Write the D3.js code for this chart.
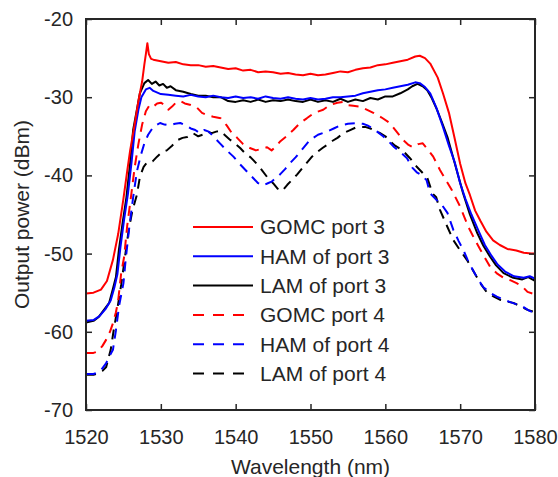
<!DOCTYPE html>
<html>
<head>
<meta charset="utf-8">
<script src="https://cdn.jsdelivr.net/npm/d3@7"></script>
<style>
  html, body { margin: 0; padding: 0; background: #fff; }
  svg { display: block; }
  text { font-family: Arial, "Liberation Sans", Helvetica, sans-serif; fill: #262626; }
</style>
</head>
<body>
<svg id="chart" width="558" height="477"></svg>
<script>
// ---------------- DATA ----------------
const seriesNames = ["GOMC port 3", "HAM of port 3", "LAM of port 3", "GOMC port 4", "HAM of port 4", "LAM of port 4"];
const seriesColors = ["#ff0000", "#0000ff", "#000000", "#ff0000", "#0000ff", "#000000"];
const seriesDashed = [false, false, false, true, true, true];

const xTicks = [1520, 1530, 1540, 1550, 1560, 1570, 1580];
const yTicks = [-70, -60, -50, -40, -30, -20];

// GOMC port 3
const gomc3X = [1520, 1521, 1522, 1522.8, 1523.6, 1524.3, 1525, 1525.5, 1525.9, 1526.5, 1527, 1527.5, 1527.8, 1528.0, 1528.2, 1528.4, 1528.7, 1529, 1529.5, 1530, 1531, 1532, 1533, 1534, 1535, 1536, 1537, 1538, 1539, 1540, 1541, 1542, 1543, 1544, 1545, 1546, 1547, 1548, 1549, 1550, 1551, 1552, 1553, 1554, 1555, 1556, 1557, 1558, 1559, 1560, 1561, 1562, 1563, 1564, 1564.6, 1565.3, 1566, 1567, 1567.7, 1568.5, 1569.2, 1570, 1570.7, 1571.3, 1572, 1572.7, 1573.5, 1574.4, 1575.3, 1576.3, 1577.5, 1578.5, 1579.5, 1580];
const gomc3Y = [-55.1, -55.0, -54.6, -53.5, -50.8, -47.5, -43.0, -39.5, -36.8, -33.5, -30.5, -28.0, -25.8, -24.5, -23.1, -24.5, -25.1, -25.2, -25.3, -25.4, -25.6, -25.5, -25.8, -25.9, -25.9, -26.1, -26.0, -26.2, -26.4, -26.3, -26.6, -26.5, -26.8, -26.7, -26.8, -27.0, -26.9, -27.1, -27.2, -27.0, -27.2, -27.1, -26.9, -26.7, -26.8, -26.5, -26.3, -26.2, -25.9, -25.8, -25.6, -25.4, -25.2, -24.8, -24.7, -25.0, -25.7, -27.5, -29.5, -32.0, -35.0, -38.5, -41.0, -42.5, -44.5, -45.8, -47.2, -48.3, -48.9, -49.4, -49.6, -49.9, -50.0, -50.0];

// HAM of port 3
const ham3X = [1520, 1521, 1521.8, 1522.6, 1523.3, 1523.8, 1524.2, 1524.6, 1525.1, 1525.6, 1526.1, 1526.5, 1527, 1527.4, 1528, 1528.5, 1529, 1530, 1531, 1532, 1533, 1534, 1535, 1536, 1537, 1538, 1539, 1540, 1541, 1542, 1543, 1544, 1545, 1546, 1547, 1548, 1549, 1550, 1551, 1552, 1553, 1554, 1555, 1556, 1557, 1558, 1559, 1560, 1561, 1562, 1563, 1564, 1564.6, 1565.3, 1566, 1566.8, 1567.7, 1568.5, 1569.3, 1570, 1570.7, 1571.5, 1572.5, 1573.3, 1574.2, 1575, 1576, 1577.2, 1578.5, 1579.3, 1580];
const ham3Y = [-58.6, -58.5, -58.0, -57.1, -56.0, -54.3, -52.6, -49.2, -45.6, -42.4, -38.2, -34.4, -31.6, -30.0, -29.0, -28.8, -29.2, -29.6, -29.7, -29.8, -29.9, -29.7, -29.9, -30.0, -29.8, -30.0, -30.1, -29.9, -30.1, -30.0, -30.2, -29.9, -30.1, -30.2, -30.0, -30.2, -30.3, -30.1, -30.3, -30.2, -30.0, -30.0, -29.9, -29.8, -29.5, -29.3, -29.1, -29.0, -28.8, -28.6, -28.4, -28.1, -28.2, -28.7, -29.5, -31.3, -33.8, -36.2, -38.4, -41.0, -43.0, -45.0, -47.2, -48.9, -50.3, -51.4, -52.3, -52.9, -53.1, -52.9, -53.2];

// LAM of port 3
const lam3X = [1520, 1521, 1521.7, 1522.4, 1523.1, 1523.6, 1524, 1524.4, 1524.9, 1525.4, 1525.9, 1526.3, 1526.8, 1527.2, 1527.8, 1528.3, 1528.8, 1529.3, 1529.8, 1530.3, 1530.8, 1531.3, 1532, 1533, 1534, 1535, 1536, 1537, 1538, 1539, 1540, 1541, 1542, 1543, 1544, 1545, 1546, 1547, 1548, 1549, 1550, 1551, 1552, 1553, 1554, 1555, 1556, 1557, 1558, 1559, 1560, 1561, 1562, 1563, 1563.6, 1564.3, 1565, 1565.6, 1566.2, 1566.9, 1567.6, 1568.3, 1569.2, 1570.4, 1571.3, 1572.3, 1573.1, 1574, 1574.8, 1575.8, 1577.1, 1578.3, 1579.1, 1580];
const lam3Y = [-58.8, -58.6, -58.1, -57.2, -56.3, -54.5, -53.0, -49.5, -46.0, -42.8, -38.4, -34.2, -31.6, -29.5, -28.2, -27.8, -28.3, -28.0, -28.5, -28.3, -28.8, -28.6, -29.1, -29.3, -29.6, -29.8, -29.8, -30.0, -30.0, -30.5, -30.6, -30.4, -30.6, -30.3, -30.6, -30.4, -30.5, -30.3, -30.5, -30.6, -30.3, -30.6, -30.4, -30.6, -30.2, -30.6, -30.3, -30.5, -30.1, -30.3, -29.9, -29.9, -29.5, -29.0, -28.6, -28.3, -28.6, -29.1, -30.1, -31.6, -33.3, -35.1, -38.2, -42.3, -45.0, -47.4, -49.0, -50.4, -51.5, -52.5, -53.1, -53.3, -53.0, -53.5];

// GOMC port 4
const gomc4X = [1520, 1521, 1521.6, 1522.2, 1522.7, 1523.2, 1523.6, 1524, 1524.3, 1524.7, 1525.1, 1525.5, 1526, 1526.5, 1527, 1527.5, 1528, 1528.5, 1529, 1529.5, 1530, 1530.5, 1531, 1531.5, 1532, 1532.6, 1533.2, 1534, 1534.8, 1535.5, 1536.2, 1537, 1538, 1538.8, 1539.5, 1540.2, 1541, 1541.9, 1542.7, 1543.5, 1544.2, 1544.8, 1545.4, 1545.9, 1546.8, 1547.7, 1548.6, 1549.5, 1550.5, 1551.7, 1552.6, 1553.6, 1554.3, 1554.9, 1555.7, 1556.6, 1557.5, 1558.4, 1559.5, 1560.6, 1561.5, 1562.4, 1563.1, 1563.7, 1564.4, 1565, 1565.7, 1566.4, 1567.3, 1568.1, 1568.9, 1570, 1571.1, 1572, 1572.7, 1574, 1575, 1575.8, 1576.7, 1577.6, 1578.4, 1579, 1580];
const gomc4Y = [-62.7, -62.7, -62.5, -61.8, -61.0, -60.0, -58.9, -57.5, -56.0, -52.5, -50.4, -46.5, -42.8, -39.0, -36.0, -33.5, -31.8, -31.0, -31.2, -30.8, -30.7, -31.0, -31.6, -31.2, -30.7, -30.5, -30.8, -31.0, -31.3, -32.0, -32.3, -32.5, -32.7, -33.6, -34.6, -35.2, -36.0, -36.5, -36.8, -36.6, -36.4, -36.8, -36.3, -35.7, -35.0, -34.2, -33.3, -32.7, -32.0, -31.6, -31.0, -30.7, -30.6, -31.0, -31.1, -31.2, -31.6, -32.0, -32.6, -33.3, -34.4, -35.5, -36.1, -36.4, -36.0, -35.9, -36.7, -37.6, -39.3, -40.6, -41.9, -44.0, -46.6, -48.3, -49.5, -51.7, -52.6, -53.1, -53.4, -53.8, -54.3, -54.9, -55.2];

// HAM of port 4
const ham4X = [1520, 1521, 1521.5, 1522, 1522.7, 1523.2, 1523.6, 1524, 1524.4, 1525, 1525.3, 1525.8, 1526.3, 1526.8, 1527.3, 1527.8, 1528.3, 1529, 1529.9, 1530.5, 1531.2, 1531.9, 1532.6, 1533.3, 1534, 1534.6, 1535.2, 1535.8, 1536.4, 1537.2, 1537.9, 1538.8, 1539.7, 1540.6, 1541.5, 1542.3, 1543, 1543.6, 1544.3, 1544.8, 1545.4, 1545.9, 1546.6, 1547.3, 1548, 1548.6, 1549.3, 1549.9, 1551, 1552.2, 1553.1, 1554, 1555, 1556.2, 1557, 1557.6, 1558.3, 1558.9, 1559.7, 1560.4, 1561.2, 1562, 1562.9, 1563.6, 1564.2, 1564.9, 1565.5, 1566, 1566.8, 1567.5, 1568.3, 1569.1, 1569.8, 1570.4, 1571, 1571.7, 1572.4, 1573.1, 1574, 1574.9, 1575.8, 1576.7, 1577.6, 1578.4, 1579.2, 1580];
const ham4Y = [-65.4, -65.4, -65.2, -64.9, -64.0, -63.0, -62.3, -59.8, -56.8, -53.8, -50.8, -46.5, -42.8, -39.5, -37.5, -35.9, -34.8, -33.8, -33.3, -33.5, -33.6, -33.4, -33.3, -33.6, -34.0, -34.2, -34.6, -34.2, -34.4, -35.2, -35.9, -36.8, -37.6, -38.6, -39.5, -40.3, -41.0, -41.3, -41.0, -40.8, -40.3, -39.9, -39.2, -38.4, -37.7, -37.0, -36.2, -35.5, -34.8, -34.4, -34.0, -33.6, -33.4, -33.3, -33.4, -33.6, -34.0, -34.4, -35.0, -35.6, -36.4, -37.0, -37.8, -39.0, -39.6, -40.0, -40.6, -42.3, -43.1, -43.7, -44.8, -47.0, -48.4, -49.5, -50.8, -52.1, -53.3, -54.3, -55.0, -55.5, -55.9, -56.2, -56.5, -56.8, -57.3, -57.6];

// LAM of port 4
const lam4X = [1520, 1521, 1521.6, 1522.2, 1522.7, 1523.3, 1523.7, 1524.2, 1524.7, 1525.2, 1525.7, 1526.2, 1526.8, 1527.2, 1527.7, 1528.2, 1528.9, 1529.5, 1530.2, 1530.8, 1531.5, 1532.2, 1532.9, 1533.5, 1534.3, 1535, 1535.6, 1536.2, 1536.8, 1537.4, 1537.9, 1538.5, 1539.2, 1540, 1540.6, 1541.3, 1542, 1542.7, 1543.4, 1544.2, 1545, 1545.6, 1546.2, 1546.9, 1547.5, 1548.2, 1548.8, 1549.5, 1550.2, 1550.9, 1551.6, 1552.2, 1552.9, 1553.6, 1554.4, 1555.3, 1556, 1556.6, 1557.3, 1558, 1558.7, 1559.3, 1560, 1560.6, 1561.3, 1562, 1562.7, 1563.3, 1564.2, 1565, 1565.6, 1566.3, 1566.8, 1567.3, 1568.3, 1569.1, 1570, 1570.9, 1571.8, 1572.7, 1573.6, 1574.5, 1575.3, 1576.2, 1577.1, 1578, 1579, 1580];
const lam4Y = [-65.5, -65.5, -65.3, -65.0, -64.5, -62.3, -59.8, -57.0, -54.0, -50.5, -47.0, -44.5, -42.5, -40.2, -38.9, -38.3, -38.2, -37.6, -37.0, -36.8, -36.2, -35.5, -35.2, -35.1, -34.6, -35.0, -34.8, -34.4, -34.6, -34.4, -34.3, -34.8, -35.4, -36.0, -36.5, -37.2, -37.7, -38.4, -39.2, -40.2, -41.0, -41.7, -42.0, -41.2, -40.6, -39.9, -39.2, -38.4, -37.6, -37.0, -36.5, -36.1, -35.6, -35.2, -34.6, -34.2, -33.9, -33.8, -33.8, -34.0, -34.3, -34.6, -35.0, -35.6, -36.2, -36.6, -37.2, -37.8, -38.9, -39.7, -40.3, -42.3, -42.8, -44.4, -46.6, -48.3, -49.6, -50.8, -52.3, -53.8, -55.0, -55.5, -55.9, -56.1, -56.3, -56.7, -57.2, -57.5];

const seriesX = [gomc3X, ham3X, lam3X, gomc4X, ham4X, lam4X];
const seriesY = [gomc3Y, ham3Y, lam3Y, gomc4Y, ham4Y, lam4Y];

// ---------------- DRAW ----------------
const svg = d3.select("#chart");
const margin = { left: 86, top: 19, right: 535, bottom: 410 };

const x = d3.scaleLinear().domain([1520, 1580]).range([margin.left, margin.right]);
const y = d3.scaleLinear().domain([-70, -20]).range([margin.bottom, margin.top]);

const axisColor = "#262626";
const tickFont = 20;
const titleFont = 21;
const legendFont = 21;

svg.append("clipPath").attr("id", "clip")
  .append("rect").attr("x", margin.left).attr("y", margin.top)
  .attr("width", margin.right - margin.left).attr("height", margin.bottom - margin.top);

const line = d3.line().x(d => x(d[0])).y(d => y(d[1]));

const plot = svg.append("g").attr("clip-path", "url(#clip)");
const order = [5, 4, 3, 2, 1, 0];
order.forEach(i => {
  const pts = seriesX[i].map((v, k) => [v, seriesY[i][k]]);
  plot.append("path")
    .datum(pts)
    .attr("d", line)
    .attr("fill", "none")
    .attr("stroke", seriesColors[i])
    .attr("stroke-width", 2)
    .attr("stroke-linejoin", "round")
    .attr("stroke-dasharray", seriesDashed[i] ? "10,7" : null);
});

const tickLen = 6;
const bottomAxis = d3.axisBottom(x).tickValues(xTicks).tickSize(-tickLen).tickPadding(20).tickFormat(d3.format("d"));
const topAxis = d3.axisTop(x).tickValues(xTicks).tickSize(-tickLen).tickFormat("");
const leftAxis = d3.axisLeft(y).tickValues(yTicks).tickSize(-tickLen).tickPadding(13).tickFormat(d => String(d));
const rightAxis = d3.axisRight(y).tickValues(yTicks).tickSize(-tickLen).tickFormat("");

function styleAxis(g) {
  g.select(".domain").remove();
  g.selectAll(".tick line").attr("stroke", axisColor).attr("stroke-width", 1.5);
  g.selectAll(".tick text").attr("fill", axisColor).attr("font-size", tickFont)
    .attr("font-family", "Arial, 'Liberation Sans', sans-serif");
}

svg.append("g").attr("transform", `translate(0,${margin.bottom})`).call(bottomAxis).call(styleAxis);
svg.append("g").attr("transform", `translate(0,${margin.top})`).call(topAxis).call(styleAxis);
svg.append("g").attr("transform", `translate(${margin.left},0)`).call(leftAxis).call(styleAxis);
svg.append("g").attr("transform", `translate(${margin.right},0)`).call(rightAxis).call(styleAxis);

svg.append("rect")
  .attr("x", margin.left).attr("y", margin.top)
  .attr("width", margin.right - margin.left).attr("height", margin.bottom - margin.top)
  .attr("fill", "none").attr("stroke", axisColor).attr("stroke-width", 2);

svg.append("text")
  .attr("x", (margin.left + margin.right) / 2).attr("y", 474)
  .attr("text-anchor", "middle").attr("font-size", titleFont)
  .text("Wavelength (nm)");
svg.append("text")
  .attr("transform", `translate(29,${(margin.top + margin.bottom) / 2}) rotate(-90)`)
  .attr("text-anchor", "middle").attr("font-size", titleFont)
  .text("Output power (dBm)");

const legX0 = 193, legX1 = 253, legTextX = 260, legY0 = 227, legDy = 29.3;
const leg = svg.append("g");
seriesNames.forEach((name, i) => {
  const yy = legY0 + i * legDy;
  leg.append("line")
    .attr("x1", legX0).attr("x2", seriesDashed[i] ? legX0 + 55 : legX1)
    .attr("y1", yy).attr("y2", yy)
    .attr("stroke", seriesColors[i]).attr("stroke-width", 2)
    .attr("stroke-dasharray", seriesDashed[i] ? "11,9" : null);
  leg.append("text")
    .attr("x", legTextX).attr("y", yy).attr("dy", "0.35em")
    .attr("font-size", legendFont).attr("fill", "#000")
    .text(name);
});
</script>
</body>
</html>
